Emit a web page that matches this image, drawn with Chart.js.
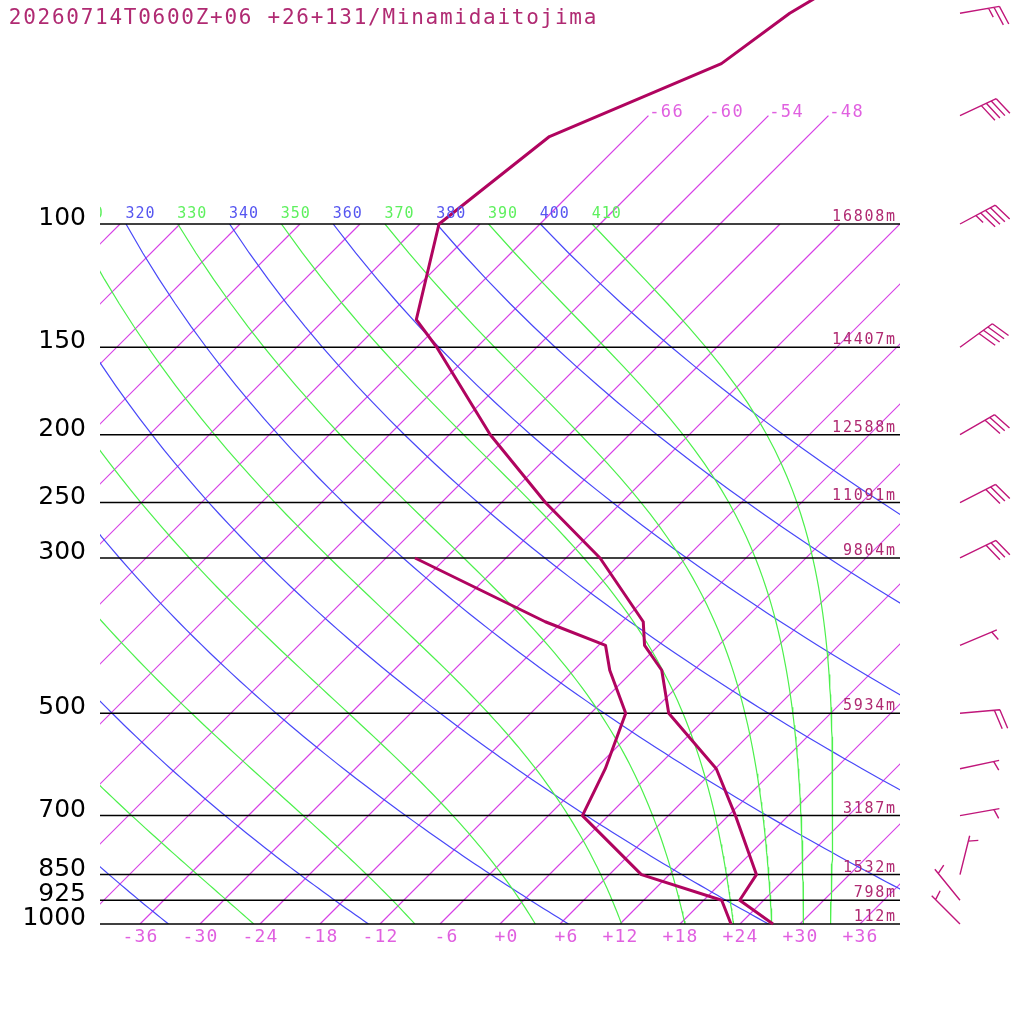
<!DOCTYPE html>
<html>
<head>
<meta charset="utf-8">
<script src="https://cdn.jsdelivr.net/npm/chart.js@4.4.1/dist/chart.umd.min.js"></script>
<style>
html, body { margin: 0; padding: 0; background: #fff; }
#wrap { width: 1024px; height: 1024px; }
</style>
</head>
<body>
<div id="wrap"><canvas id="skewt" width="1024" height="1024"></canvas></div>
<script>
// Sounding: 2026-07-14 06Z (+06h), Minamidaitojima
const stationTitle = '20260714T0600Z+06 +26+131/Minamidaitojima';

// Standard levels drawn as isobars, with geopotential height labels
const isobarLevels = [1000, 925, 850, 700, 500, 300, 250, 200, 150, 100];
const isobarLabels = ['1000', '925', '850', '700', '500', '300', '250', '200', '150', '100'];
const heightLabels = ['112m', '798m', '1532m', '3187m', '5934m', '9804m', '11091m', '12588m', '14407m', '16808m'];

// Temperature profile (hPa, degC)
const tempPres = [1000, 925, 850, 700, 600, 500, 434, 400, 370, 300, 250, 200, 150, 137, 100, 75, 59, 50, 40];
const tempVals = [27.3, 21.6, 20.7, 12.7, 6.1, -4.2, -9.2, -13.4, -15.9, -26.6, -37.6, -49.9, -64.0, -68.8, -76.1, -73.8, -63.9, -62.1, -57.5];

// Dew point profile (hPa, degC)
const dewPres = [1000, 925, 850, 700, 600, 500, 434, 400, 370, 300];
const dewVals = [23.1, 19.8, 9.2, -2.6, -5.0, -8.5, -14.4, -17.3, -25.7, -45.1];

// Winds (hPa, direction deg, speed kt)
const windPres = [50, 70, 100, 150, 200, 250, 300, 400, 500, 600, 700, 850, 925, 1000];
const windDir = [80, 65, 62, 54, 60, 63, 64, 67, 85, 78, 80, 14, 321, 315];
const windSpeed = [25, 40, 45, 40, 30, 30, 30, 5, 20, 5, 5, 5, 5, 5];

// Background lines
const isothermVals = [-108, -102, -96, -90, -84, -78, -72, -66, -60, -54, -48, -42, -36, -30, -24, -18, -12, -6, 0, 6, 12, 18, 24, 30, 36];
const isothermTopVals = [-66, -60, -54, -48];
const isothermTopLabels = ['-66', '-60', '-54', '-48'];
const bottomTickVals = [-36, -30, -24, -18, -12, -6, 0, 6, 12, 18, 24, 30, 36];
const bottomTickLabels = ['-36', '-30', '-24', '-18', '-12', '-6', '+0', '+6', '+12', '+18', '+24', '+30', '+36'];
const dryThetas = [240, 260, 280, 300, 320, 340, 360, 380, 400];
const moistThetas = [250, 270, 290, 310, 330, 350, 370, 390, 410];

const SKEW = 70;       // degC of skew per decade of pressure
const KAPPA = 0.2857;
const TOP_P = 70;      // labelled isotherms run up to here

const colIsotherm = 'rgb(214, 64, 230)';
const colDry = '#4848f8';
const colMoist = '#4cf04c';
const colProfile = '#b0045f';
const colText = '#b02a72';

function skewX(t, p) {
    return t + SKEW * Math.log10(1000 / p);
}

// pseudo-adiabatic lapse rate dT/dp (K/hPa)
function moistLapse(t, p) {
    const tc = t - 273.15;
    const es = 6.112 * Math.exp(17.67 * tc / (tc + 243.5));
    const rs = 0.622 * es / (p - es);
    const Rd = 287.04, cp = 1005.7, Lv = 2.501e6;
    const num = Rd * t + Lv * rs;
    const den = cp + (Lv * Lv * rs * 0.622) / (Rd * t * t);
    return num / (den * p);
}

function dryLine(theta) {
    const pts = [];
    for (let p = 100; p <= 1000; p += 10) {
        const t = theta * Math.pow(p / 1000, KAPPA) - 273.15;
        pts.push({x: skewX(t, p), y: p});
    }
    return pts;
}

function moistLine(theta) {
    let t = theta * Math.pow(100 / 1000, KAPPA);
    const dp = 2;
    const pts = [{x: skewX(t - 273.15, 100), y: 100}];
    for (let i = 1; i <= 450; i++) {
        const p = 100 + (i - 1) * dp;
        const k1 = moistLapse(t, p);
        const k2 = moistLapse(t + k1 * dp / 2, p + dp / 2);
        const k3 = moistLapse(t + k2 * dp / 2, p + dp / 2);
        const k4 = moistLapse(t + k3 * dp, p + dp);
        t += dp * (k1 + 2 * k2 + 2 * k3 + k4) / 6;
        if (i % 5 === 0) pts.push({x: skewX(t - 273.15, p + dp), y: p + dp});
    }
    return pts;
}

function lineSet(data, color, width, order, clip) {
    const ds = {
        data: data,
        showLine: true,
        borderColor: color,
        backgroundColor: color,
        borderWidth: width,
        pointRadius: 0,
        tension: 0,
        order: order
    };
    if (clip !== undefined) ds.clip = clip;
    return ds;
}

const datasets = [];

// profiles on top
datasets.push(Object.assign(lineSet(tempPres.map((p, i) => ({x: skewX(tempVals[i], p), y: p})), colProfile, 3, 0, false), {borderJoinStyle: 'round'}));
datasets.push(Object.assign(lineSet(dewPres.map((p, i) => ({x: skewX(dewVals[i], p), y: p})), colProfile, 3, 0, false), {borderJoinStyle: 'round'}));

isobarLevels.forEach(p => {
    datasets.push(lineSet([{x: -40, y: p}, {x: 40, y: p}], '#000', 1.5, 1, false));
});
moistThetas.forEach(th => datasets.push(lineSet(moistLine(th), colMoist, 1.2, 2)));
dryThetas.forEach(th => datasets.push(lineSet(dryLine(th), colDry, 1.2, 3)));
isothermVals.forEach(t => {
    datasets.push(lineSet([{x: skewX(t, 1000), y: 1000}, {x: skewX(t, 100), y: 100}], colIsotherm, 1.2, 4));
});
isothermTopVals.forEach(t => {
    datasets.push(lineSet([{x: skewX(t, 100), y: 100}, {x: skewX(t, TOP_P), y: TOP_P}], colIsotherm, 1.2, 4, false));
});

// monospace text with fixed advance per character
function spacedText(ctx, text, x, y, adv, align) {
    const w = adv * text.length;
    const x0 = align === 'right' ? x - w : (align === 'center' ? x - w / 2 : x);
    ctx.textAlign = 'center';
    for (let i = 0; i < text.length; i++) {
        ctx.fillText(text[i], x0 + adv * (i + 0.5), y);
    }
}

function drawBarb(ctx, x0, y0, dir, spd) {
    const rad = dir * Math.PI / 180;
    const ux = Math.sin(rad), uy = -Math.cos(rad);
    const len = 40, full = 20, gap = 5.5;
    const a = 72 * Math.PI / 180;
    const bx = ux * Math.cos(a) - uy * Math.sin(a);
    const by = ux * Math.sin(a) + uy * Math.cos(a);
    ctx.beginPath();
    ctx.moveTo(x0, y0);
    ctx.lineTo(x0 + ux * len, y0 + uy * len);
    let n = Math.floor(spd / 10);
    const half = (spd % 10) >= 5;
    let d = len;
    if (n === 0 && half) d -= gap;
    for (let i = 0; i < n; i++) {
        const sx = x0 + ux * d, sy = y0 + uy * d;
        ctx.moveTo(sx, sy);
        ctx.lineTo(sx + bx * full, sy + by * full);
        d -= gap;
    }
    if (half) {
        const sx = x0 + ux * d, sy = y0 + uy * d;
        ctx.moveTo(sx, sy);
        ctx.lineTo(sx + bx * full / 2, sy + by * full / 2);
    }
    ctx.stroke();
}

const annotations = {
    id: 'skewtText',
    afterDatasetsDraw(chart) {
        const ctx = chart.ctx;
        const xs = chart.scales.x, ys = chart.scales.y;
        ctx.save();
        ctx.textBaseline = 'alphabetic';

        // title
        ctx.fillStyle = colText;
        ctx.font = '21px "DejaVu Sans Mono"';
        spacedText(ctx, stationTitle, 8, 24, 14.37, 'left');

        // pressure labels
        ctx.fillStyle = '#000';
        ctx.font = '25px "DejaVu Sans"';
        ctx.textAlign = 'right';
        isobarLevels.forEach((p, i) => {
            ctx.fillText(isobarLabels[i], 86, ys.getPixelForValue(p) + 1);
        });

        // height labels
        ctx.fillStyle = colText;
        ctx.font = '15px "DejaVu Sans Mono"';
        isobarLevels.forEach((p, i) => {
            spacedText(ctx, heightLabels[i], 896, ys.getPixelForValue(p) - 3, 10.8, 'right');
        });

        // bottom isotherm labels
        ctx.fillStyle = '#e060e0';
        ctx.font = '18px "DejaVu Sans Mono"';
        bottomTickVals.forEach((t, i) => {
            spacedText(ctx, bottomTickLabels[i], xs.getPixelForValue(skewX(t, 1000)) + 18, 942, 12, 'right');
        });

        // top isotherm labels
        ctx.font = '17px "DejaVu Sans Mono"';
        isothermTopVals.forEach((t, i) => {
            spacedText(ctx, isothermTopLabels[i], xs.getPixelForValue(skewX(t, TOP_P)), ys.getPixelForValue(TOP_P) + 1, 11.7, 'left');
        });

        // adiabat labels along 100 hPa
        ctx.save();
        ctx.beginPath();
        ctx.rect(chart.chartArea.left, 0, chart.chartArea.right - chart.chartArea.left, chart.chartArea.top);
        ctx.clip();
        ctx.font = '15px "DejaVu Sans Mono"';
        const y100 = ys.getPixelForValue(100) - 6;
        dryThetas.forEach(th => {
            const t = th * Math.pow(0.1, KAPPA) - 273.15;
            ctx.fillStyle = '#5656f0';
            spacedText(ctx, String(th), xs.getPixelForValue(skewX(t, 100)) - 1, y100, 10, 'left');
        });
        moistThetas.forEach(th => {
            const t = th * Math.pow(0.1, KAPPA) - 273.15;
            ctx.fillStyle = '#5ef05e';
            spacedText(ctx, String(th), xs.getPixelForValue(skewX(t, 100)) - 1, y100, 10, 'left');
        });
        ctx.restore();

        // wind barbs
        ctx.strokeStyle = '#c0167a';
        ctx.lineWidth = 1.4;
        ctx.lineCap = 'butt';
        windPres.forEach((p, i) => {
            drawBarb(ctx, 960, ys.getPixelForValue(p), windDir[i], windSpeed[i]);
        });
        ctx.restore();
    }
};

new Chart(document.getElementById('skewt'), {
    type: 'scatter',
    data: {datasets: datasets},
    options: {
        responsive: false,
        devicePixelRatio: 1,
        animation: false,
        events: [],
        layout: {padding: {left: 100, right: 124, top: 224, bottom: 100}},
        plugins: {legend: {display: false}, tooltip: {enabled: false}},
        scales: {
            x: {type: 'linear', min: -40, max: 40, display: false, bounds: 'data'},
            y: {type: 'logarithmic', min: 100, max: 1000, reverse: true, display: false, bounds: 'data'}
        }
    },
    plugins: [annotations]
});
</script>
</body>
</html>
